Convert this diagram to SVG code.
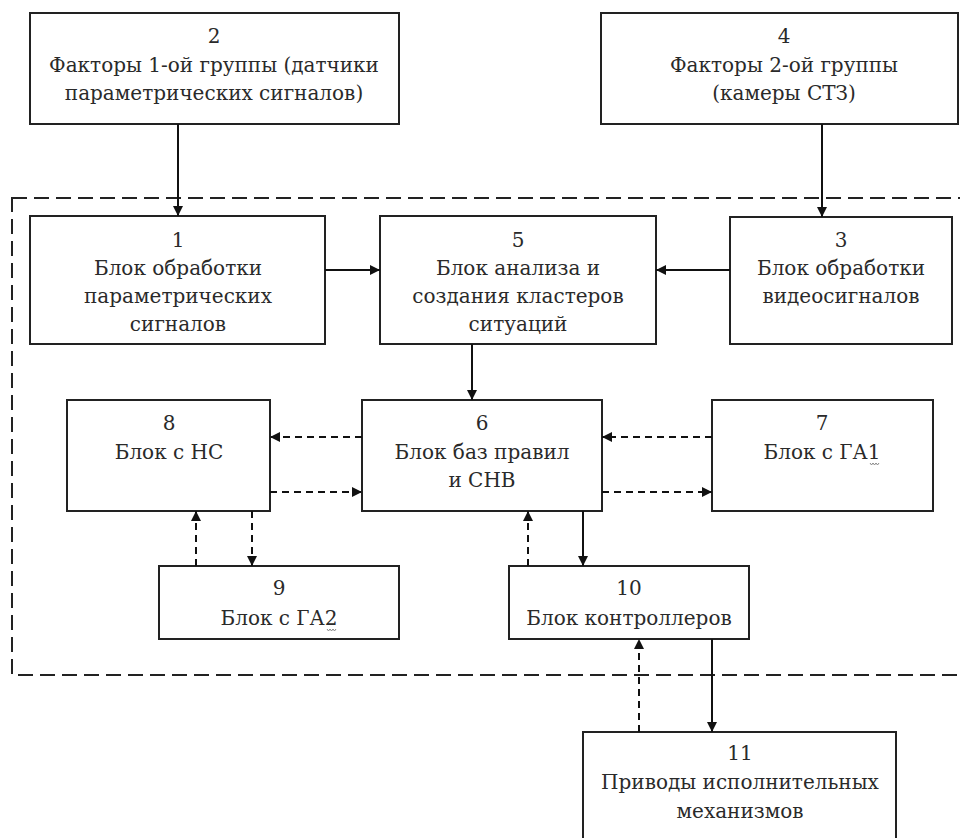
<svg xmlns="http://www.w3.org/2000/svg" width="960" height="838" viewBox="0 0 960 838">
<style>
.box{fill:#fff;stroke:#222;stroke-width:2}
.t{font-family:"DejaVu Serif","Liberation Serif",serif;font-size:20px;fill:#2a2a2a;text-anchor:middle}
.c{stroke:#111;stroke-width:2;fill:none}
.d{stroke:#111;stroke-width:2;fill:none;stroke-dasharray:7 5}
.frame{stroke:#222;stroke-width:2;fill:none;stroke-dasharray:15 7}
.sq{stroke:#888;stroke-width:1;fill:none}
</style>
<defs>
<marker id="ah" viewBox="0 0 10 10" refX="10" refY="5" markerWidth="10" markerHeight="10" markerUnits="userSpaceOnUse" orient="auto">
<path d="M0,0 L10,5 L0,10 Z" fill="#111"/>
</marker>
</defs>
<rect width="960" height="838" fill="#fff"/>
<rect class="frame" x="12" y="198" width="960" height="477"/>

<g id="n2"><rect class="box" x="30" y="13" width="369" height="111"/>
<text class="t" x="214" y="43">2</text>
<text class="t" x="214" y="72">Факторы 1-ой группы (датчики</text>
<text class="t" x="214" y="100">параметрических сигналов)</text></g>

<g id="n4"><rect class="box" x="601" y="13" width="357" height="111"/>
<text class="t" x="784" y="43">4</text>
<text class="t" x="784" y="72">Факторы 2-ой группы</text>
<text class="t" x="784" y="100">(камеры СТЗ)</text></g>

<g id="n1"><rect class="box" x="30" y="216" width="295" height="128"/>
<text class="t" x="178" y="247">1</text>
<text class="t" x="178" y="275">Блок обработки</text>
<text class="t" x="178" y="303">параметрических</text>
<text class="t" x="178" y="331">сигналов</text></g>

<g id="n5"><rect class="box" x="380" y="216" width="276" height="128"/>
<text class="t" x="518" y="247">5</text>
<text class="t" x="518" y="275">Блок анализа и</text>
<text class="t" x="518" y="303">создания кластеров</text>
<text class="t" x="518" y="331">ситуаций</text></g>

<g id="n3"><rect class="box" x="730" y="217" width="222" height="127"/>
<text class="t" x="841" y="247">3</text>
<text class="t" x="841" y="275">Блок обработки</text>
<text class="t" x="841" y="303">видеосигналов</text></g>

<g id="n8"><rect class="box" x="67" y="400" width="203" height="111"/>
<text class="t" x="169" y="430">8</text>
<text class="t" x="169" y="459">Блок с НС</text></g>

<g id="n6"><rect class="box" x="362" y="400" width="240" height="111"/>
<text class="t" x="482" y="430">6</text>
<text class="t" x="482" y="459">Блок баз правил</text>
<text class="t" x="482" y="487">и СНВ</text></g>

<g id="n7"><rect class="box" x="712" y="400" width="221" height="111"/>
<text class="t" x="822" y="430">7</text>
<text class="t" x="822" y="459">Блок с ГА1</text>
<path class="sq" d="M870,463 l1.5,2 l1.5,-2 l1.5,2 l1.5,-2 l1.5,2 l1.5,-2"/></g>

<g id="n9"><rect class="box" x="159" y="566" width="240" height="73"/>
<text class="t" x="279" y="595">9</text>
<text class="t" x="279" y="625">Блок с ГА2</text>
<path class="sq" d="M327,629 l1.5,2 l1.5,-2 l1.5,2 l1.5,-2 l1.5,2 l1.5,-2"/></g>

<g id="n10"><rect class="box" x="509" y="566" width="240" height="73"/>
<text class="t" x="629" y="595">10</text>
<text class="t" x="629" y="625">Блок контроллеров</text></g>

<g id="n11"><rect class="box" x="583" y="732" width="313" height="120"/>
<text class="t" x="740" y="760">11</text>
<text class="t" x="740" y="789">Приводы исполнительных</text>
<text class="t" x="740" y="818">механизмов</text></g>

<g id="connectors">
<line class="c" x1="178" y1="124" x2="178" y2="216" marker-end="url(#ah)"/>
<line class="c" x1="822" y1="124" x2="822" y2="217" marker-end="url(#ah)"/>
<line class="c" x1="325" y1="270" x2="380" y2="270" marker-end="url(#ah)"/>
<line class="c" x1="730" y1="270" x2="656" y2="270" marker-end="url(#ah)"/>
<line class="c" x1="472" y1="344" x2="472" y2="400" marker-end="url(#ah)"/>
<line class="d" x1="362" y1="437" x2="270" y2="437" marker-end="url(#ah)"/>
<line class="d" x1="270" y1="492" x2="362" y2="492" marker-end="url(#ah)"/>
<line class="d" x1="712" y1="437" x2="602" y2="437" marker-end="url(#ah)"/>
<line class="d" x1="602" y1="492" x2="712" y2="492" marker-end="url(#ah)"/>
<line class="d" x1="196" y1="566" x2="196" y2="511" marker-end="url(#ah)"/>
<line class="d" x1="252" y1="511" x2="252" y2="566" marker-end="url(#ah)"/>
<line class="c" x1="583" y1="511" x2="583" y2="566" marker-end="url(#ah)"/>
<line class="d" x1="528" y1="566" x2="528" y2="511" marker-end="url(#ah)"/>
<line class="c" x1="712" y1="639" x2="712" y2="732" marker-end="url(#ah)"/>
<line class="d" x1="639" y1="732" x2="639" y2="639" marker-end="url(#ah)"/>
</g>
</svg>
